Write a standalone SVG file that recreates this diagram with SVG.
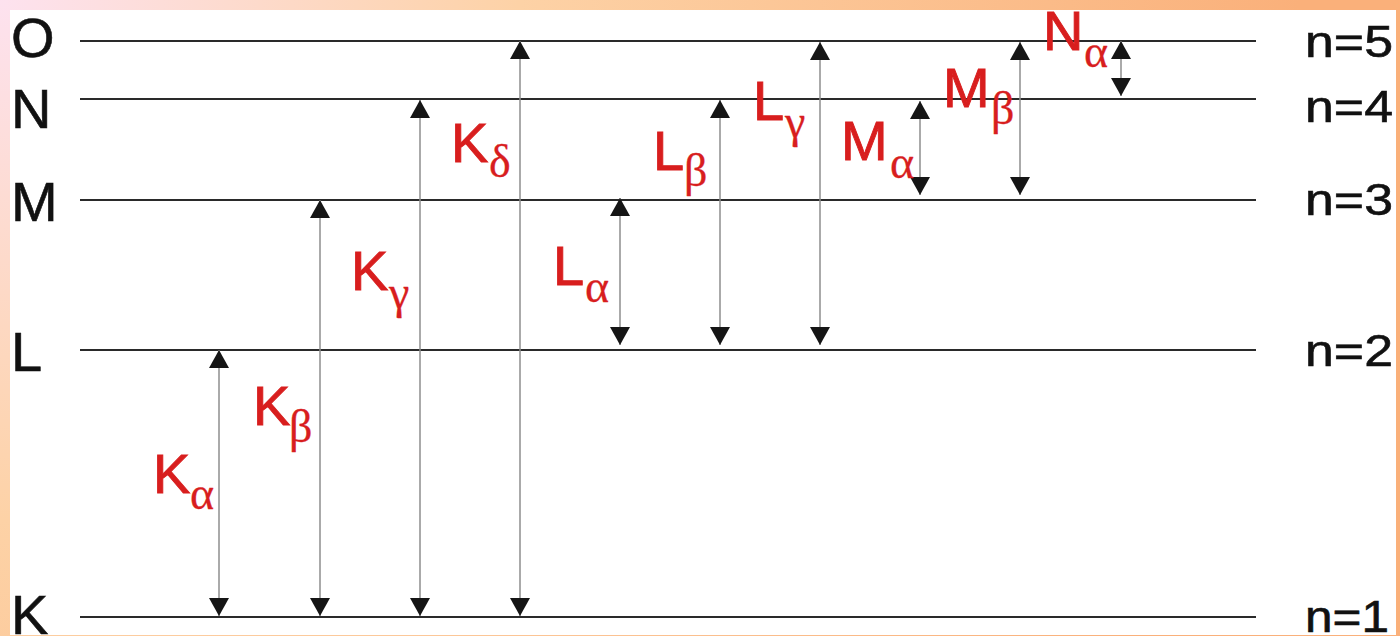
<svg xmlns="http://www.w3.org/2000/svg" width="1400" height="636" viewBox="0 0 1400 636">
  <defs>
    <radialGradient id="frameGrad" gradientUnits="userSpaceOnUse" cx="0" cy="0" r="1300">
      <stop offset="0" stop-color="#fde2ef"/>
      <stop offset="0.4" stop-color="#fdd2a6"/>
      <stop offset="1" stop-color="#fab07a"/>
    </radialGradient>
    <marker id="head" markerUnits="userSpaceOnUse" markerWidth="18" markerHeight="20" refX="18" refY="10" orient="auto-start-reverse" viewBox="0 0 18 20">
      <path d="M0,0 L18,10 L0,20 z" fill="#151515"/>
    </marker>
    <style>
      .level { stroke: #2a2a2a; stroke-width: 2.2; }
      .shaft { stroke: #8e8e8e; stroke-width: 1.5; marker-start: url(#head); marker-end: url(#head); }
      .shell { font-family: "Liberation Sans", Arial, sans-serif; font-size: 56px; fill: #111; stroke: #111; stroke-width: 0.6; }
      .qnum { font-family: "Liberation Sans", Arial, sans-serif; font-size: 45px; fill: #111; stroke: #111; stroke-width: 0.6; }
      .line-name { font-family: "Liberation Sans", Arial, sans-serif; font-size: 56px; fill: #d81e1e; stroke: #d81e1e; stroke-width: 0.9; }
      .sub { font-family: "Liberation Serif", "Times New Roman", serif; font-size: 46px; fill: #d81e1e; stroke: #d81e1e; stroke-width: 0.3; }
    </style>
  </defs>

  <!-- frame and page -->
  <rect x="0" y="0" width="1400" height="636" fill="url(#frameGrad)"/>
  <rect x="10" y="10" width="1386" height="625" fill="#ffffff"/>

  <!-- energy levels -->
  <g id="levels">
    <line class="level" x1="80" y1="41" x2="1256" y2="41"/>
    <line class="level" x1="80" y1="99" x2="1256" y2="99"/>
    <line class="level" x1="80" y1="200" x2="1256" y2="200"/>
    <line class="level" x1="80" y1="350" x2="1256" y2="350"/>
    <line class="level" x1="80" y1="617" x2="1256" y2="617"/>
  </g>

  <!-- shell letters -->
  <g id="shell-labels">
    <text class="shell" x="11" y="57">O</text>
    <text class="shell" x="11" y="128">N</text>
    <text class="shell" x="11" y="221">M</text>
    <text class="shell" x="11" y="371">L</text>
    <text class="shell" x="11" y="634">K</text>
  </g>

  <!-- principal quantum numbers -->
  <g id="n-labels">
    <text class="qnum" x="1305" y="57" textLength="88" lengthAdjust="spacingAndGlyphs">n=5</text>
    <text class="qnum" x="1305" y="122" textLength="88" lengthAdjust="spacingAndGlyphs">n=4</text>
    <text class="qnum" x="1305" y="215" textLength="88" lengthAdjust="spacingAndGlyphs">n=3</text>
    <text class="qnum" x="1305" y="366" textLength="88" lengthAdjust="spacingAndGlyphs">n=2</text>
    <text class="qnum" x="1305" y="632" textLength="84" lengthAdjust="spacingAndGlyphs">n=1</text>
  </g>

  <!-- transitions -->
  <g id="connectors">
    <line class="shaft" x1="219" y1="350" x2="219" y2="616"/>
    <line class="shaft" x1="320" y1="200" x2="320" y2="616"/>
    <line class="shaft" x1="420" y1="100" x2="420" y2="616"/>
    <line class="shaft" x1="520" y1="41" x2="520" y2="616"/>
    <line class="shaft" x1="620" y1="198" x2="620" y2="345"/>
    <line class="shaft" x1="720" y1="100" x2="720" y2="345"/>
    <line class="shaft" x1="820" y1="42" x2="820" y2="345"/>
    <line class="shaft" x1="920" y1="101" x2="920" y2="195"/>
    <line class="shaft" x1="1020" y1="42" x2="1020" y2="195"/>
    <line class="shaft" x1="1121" y1="41" x2="1121" y2="96"/>
  </g>

  <!-- line names -->
  <g id="K-alpha"><text class="line-name" x="153" y="493">K</text><text class="sub" x="190" y="509">α</text></g>
  <g id="K-beta"><text class="line-name" x="253" y="425">K</text><text class="sub" x="289" y="442">β</text></g>
  <g id="K-gamma"><text class="line-name" x="351" y="290">K</text><text class="sub" x="389" y="308">γ</text></g>
  <g id="K-delta"><text class="line-name" x="451" y="162">K</text><text class="sub" x="489" y="177">δ</text></g>
  <g id="L-alpha"><text class="line-name" x="553" y="285">L</text><text class="sub" x="585" y="302">α</text></g>
  <g id="L-beta"><text class="line-name" x="653" y="170">L</text><text class="sub" x="684" y="186">β</text></g>
  <g id="L-gamma"><text class="line-name" x="753" y="120">L</text><text class="sub" x="785" y="137">γ</text></g>
  <g id="M-alpha"><text class="line-name" x="841" y="160">M</text><text class="sub" x="890" y="178">α</text></g>
  <g id="M-beta"><text class="line-name" x="943" y="107">M</text><text class="sub" x="991" y="124">β</text></g>
  <g id="N-alpha"><text class="line-name" x="1043" y="50">N</text><text class="sub" x="1084" y="67">α</text></g>
</svg>
